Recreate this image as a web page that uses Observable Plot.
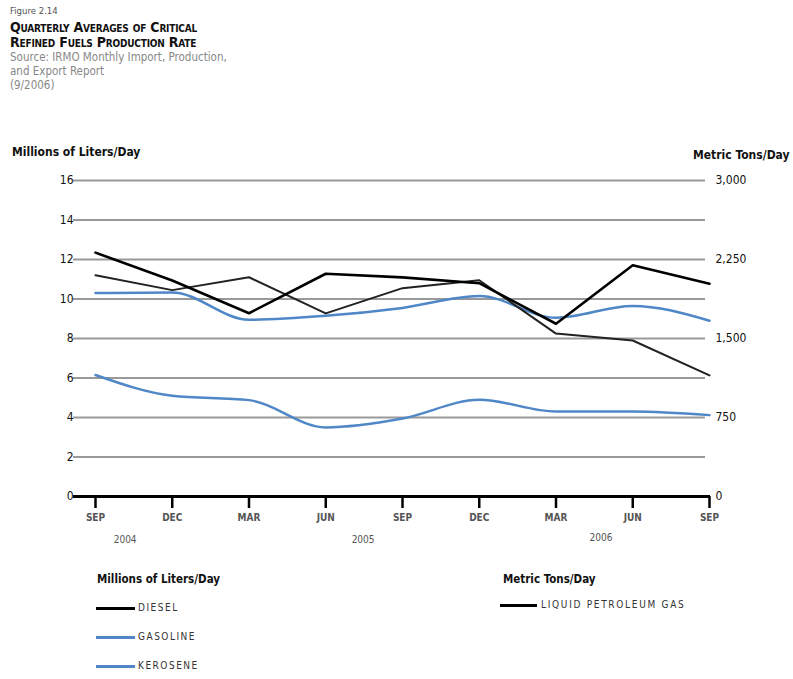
<!DOCTYPE html>
<html>
<head>
<meta charset="utf-8">
<script src="https://cdn.jsdelivr.net/npm/d3@7"></script>
<script src="https://cdn.jsdelivr.net/npm/@observablehq/plot@0.6"></script>
<style>
  html, body { margin: 0; padding: 0; background: #fff; }
  body { width: 793px; height: 679px; position: relative; overflow: hidden;
         font-family: 'DejaVu Sans Condensed', 'Liberation Sans', sans-serif; }
  .t { position: absolute; white-space: nowrap; line-height: 1; }
  #chart { position: absolute; left: 0; top: 140px; }
  .sw { position: absolute; height: 3px; }
</style>
</head>
<body>
<div class="t" style="left:10px;top:6px;font-size:9.5px;color:#555;">Figure 2.14</div>
<div class="t" style="left:10px;top:20px;font-size:14px;font-weight:bold;font-variant:small-caps;color:#111;letter-spacing:-0.2px;">Quarterly Averages of Critical</div>
<div class="t" style="left:10px;top:35px;font-size:14px;font-weight:bold;font-variant:small-caps;color:#111;letter-spacing:-0.2px;">Refined Fuels Production Rate</div>
<div class="t" style="left:10px;top:52px;font-size:11.5px;color:#888;">Source: IRMO Monthly Import, Production,</div>
<div class="t" style="left:10px;top:66px;font-size:11.5px;color:#888;">and Export Report</div>
<div class="t" style="left:10px;top:80px;font-size:11.5px;color:#888;">(9/2006)</div>

<div class="t" style="left:12px;top:146px;font-size:12px;font-weight:bold;color:#111;">Millions of Liters/Day</div>
<div class="t" style="left:693px;top:149px;font-size:12px;font-weight:bold;color:#111;">Metric Tons/Day</div>

<div id="chart"></div>

<div class="t" id="y0" style="top:535px;font-size:10px;color:#555;"></div>
<div class="t" id="y1" style="top:535px;font-size:10px;color:#555;"></div>
<div class="t" id="y2" style="top:533px;font-size:10px;color:#555;"></div>

<div class="t" style="left:97px;top:574px;font-size:11.5px;font-weight:bold;color:#111;">Millions of Liters/Day</div>
<div class="sw" style="left:96px;top:607px;width:39px;background:#000;"></div>
<div class="t" style="left:138px;top:603px;font-size:10px;color:#333;letter-spacing:1.5px;">DIESEL</div>
<div class="sw" style="left:96px;top:636px;width:39px;background:#4f87c7;"></div>
<div class="t" style="left:138px;top:632px;font-size:10px;color:#333;letter-spacing:1.5px;">GASOLINE</div>
<div class="sw" style="left:96px;top:665px;width:39px;background:#4f87c7;"></div>
<div class="t" style="left:138px;top:661px;font-size:10px;color:#333;letter-spacing:1.5px;">KEROSENE</div>

<div class="t" style="left:503px;top:574px;font-size:11.5px;font-weight:bold;color:#111;">Metric Tons/Day</div>
<div class="sw" style="left:500px;top:604px;width:37px;background:#000;"></div>
<div class="t" style="left:541px;top:600px;font-size:10px;color:#333;letter-spacing:1.7px;">LIQUID PETROLEUM GAS</div>

<script>
// ---- data ----
const months = ["SEP","DEC","MAR","JUN","SEP","DEC","MAR","JUN","SEP"];
const years = ["2004","2005","2006"];
const diesel   = [11.2, 10.45, 11.1, 9.27, 10.55, 10.95, 8.25, 7.9, 6.13];   // millions of liters/day
const gasoline = [10.3, 10.33, 8.95, 9.15, 9.55, 10.15, 9.05, 9.65, 8.9];   // millions of liters/day
const kerosene = [6.15, 5.1, 4.88, 3.5, 3.95, 4.9, 4.3, 4.3, 4.12];        // millions of liters/day
const lpg      = [2315, 2050, 1740, 2115, 2080, 2025, 1640, 2195, 2020];   // metric tons/day
const leftTicks  = [0, 2, 4, 6, 8, 10, 12, 14, 16];
const rightTicks = [0, 750, 1500, 2250, 3000];
const tonsPerUnit = 3000 / 16; // right axis 3,000 t/day aligns with 16 ML/day

// ---- table ----
const rows = [];
months.forEach((m, i) => {
  rows.push({i, series: "LPG", v: lpg[i] / tonsPerUnit});
  rows.push({i, series: "DIESEL", v: diesel[i]});
  rows.push({i, series: "GASOLINE", v: gasoline[i]});
  rows.push({i, series: "KEROSENE", v: kerosene[i]});
});
const blues = rows.filter(d => d.series === "GASOLINE" || d.series === "KEROSENE");

const chart = Plot.plot({
  width: 793,
  height: 420,
  marginTop: 40,
  marginBottom: 64,
  marginLeft: 95,
  marginRight: 84,
  x: {domain: [0, 8]},
  y: {domain: [0, 16]},
  style: {fontFamily: "'DejaVu Sans Condensed',sans-serif", fontSize: "12px", background: "transparent", overflow: "visible", color: "#000"},
  marks: [
    Plot.ruleY(leftTicks.filter(v => v > 0), {stroke: "#999", strokeWidth: 2.2, insetLeft: -22, insetRight: 4}),
    Plot.axisY({ticks: leftTicks, tickSize: 0, tickPadding: 22, label: null, fill: "#111", fontSize: 12}),
    Plot.axisY({anchor: "right", ticks: rightTicks.map(t => t / tonsPerUnit), tickFormat: d => d3.format(",")(Math.round(d * tonsPerUnit)), tickSize: 0, tickPadding: 6, label: null, fill: "#111", fontSize: 12}),
    Plot.line(blues, {x: "i", y: "v", z: "series", stroke: "#4f87c7", strokeWidth: 2.5, curve: "monotone-x"}),
    Plot.line(rows.filter(d => d.series === "DIESEL"), {x: "i", y: "v", stroke: "#222", strokeWidth: 2}),
    Plot.line(rows.filter(d => d.series === "LPG"), {x: "i", y: "v", stroke: "#000", strokeWidth: 2.6}),
    Plot.ruleY([0], {stroke: "#000", strokeWidth: 3, insetLeft: -22, insetRight: -1}),
    Plot.axisX({ticks: d3.range(months.length), tickFormat: i => months[i], tickSize: 12, tickPadding: 5, stroke: "#000", strokeWidth: 2.5, fill: "#555", fontSize: 10, fontWeight: "bold", label: null})
  ]
});
document.getElementById("chart").appendChild(chart);

// year labels under the month ticks
const xs = i => 95 + i * (709 - 95) / 8;
const yearAt = [0.4, 3.5, 6.6];
years.forEach((y, k) => {
  const el = document.getElementById("y" + k);
  el.textContent = y;
  el.style.left = (xs(yearAt[k]) - 12) + "px";
});
</script>
</body>
</html>
